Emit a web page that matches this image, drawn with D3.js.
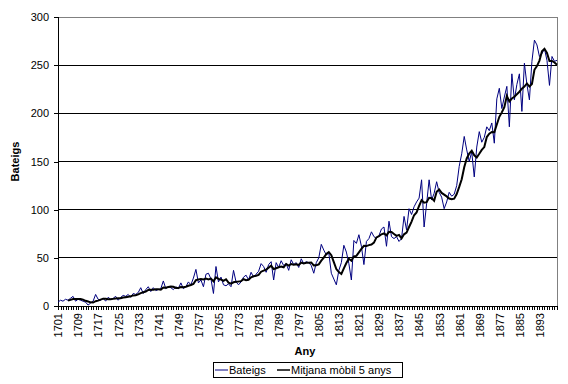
<!DOCTYPE html>
<html>
<head>
<meta charset="utf-8">
<script src="https://cdn.jsdelivr.net/npm/d3@7"></script>
<style>
  body { margin: 0; background: #fff; }
  text { font-family: Arial, "Liberation Sans", sans-serif; }
</style>
</head>
<body>
<div id="vis"></div>
<script>
const firstYear = 1701;
const maFirstYear = 1705;

// baptisms per year, 1701-1900
const bateigs = [
  4, 6, 5, 7, 6, 8, 10, 5, 7, 6,
  5, 4, 1, 3, 5, 12, 7, 6, 8, 5,
  9, 7, 8, 10, 6, 9, 11, 10, 12, 9,
  13, 12, 14, 19, 13, 17, 20, 15, 19, 16,
  17, 18, 26, 18, 20, 19, 17, 20, 18, 24,
  18, 20, 25, 22, 29, 38, 24, 27, 20, 33,
  34, 28, 13, 41, 25, 30, 22, 21, 23, 20,
  37, 25, 22, 25, 30, 32, 27, 35, 30, 33,
  36, 44, 41, 35, 43, 46, 27, 45, 40, 47,
  42, 44, 37, 48, 43, 45, 40, 49, 44, 46,
  45, 42, 34, 45, 50, 64, 58, 53, 55, 34,
  28, 22, 37, 45, 63, 56, 44, 27, 68, 65,
  74, 62, 43, 67, 70, 77, 72, 70, 73, 80,
  82, 62, 88, 72, 70, 72, 67, 70, 93, 79,
  101, 95, 103, 108, 112, 131, 82, 106, 131, 110,
  117, 129, 118, 113, 101, 108, 118, 114, 116, 125,
  145, 158, 176, 162, 150, 160, 134, 165, 181, 170,
  175, 186, 182, 190, 169, 215, 226, 205, 217, 228,
  186, 241, 214, 230, 241, 202, 252, 230, 214, 254,
  276, 271, 259, 262, 267, 255, 229, 259, 254, 255,
];

// 5-year moving average, 1705-1900
const mitjana = [
  5.6, 6.4, 7.2, 7.2, 7.2, 7.2, 6.6, 5.4, 4.6, 3.8,
  3.6, 5, 5.6, 6.6, 7.6, 7.6, 7, 7, 7.4, 7.8,
  8, 8, 8.8, 9.2, 9.6, 10.2, 11, 11.2, 12, 13.4,
  14.2, 15, 16.6, 16.8, 16.8, 17.4, 17.4, 17, 19.2, 19,
  19.8, 20.2, 20, 18.8, 18.8, 19.6, 19.4, 20, 21, 21.8,
  22.8, 26.8, 27.6, 28, 27.6, 28.4, 27.6, 28.4, 25.6, 29.8,
  28.2, 27.4, 26.2, 27.8, 24.2, 23.2, 24.6, 25.2, 25.4, 25.8,
  27.8, 26.8, 27.2, 29.8, 30.8, 31.4, 32.2, 35.6, 36.8, 37.8,
  39.8, 41.8, 38.4, 39.2, 40.2, 41, 40.2, 43.6, 42, 43.6,
  42.8, 43.4, 42.6, 45, 44.2, 44.8, 44.8, 45.2, 42.2, 42.4,
  43.2, 47, 50.2, 54, 56, 52.8, 45.6, 38.4, 35.2, 33.2,
  39, 44.6, 49, 47, 51.6, 52, 55.6, 59.2, 62.4, 62.2,
  63.2, 63.8, 65.8, 71.2, 72.4, 74.4, 75.4, 73.4, 77, 76.8,
  74.8, 72.8, 73.8, 70.2, 74.4, 76.2, 82, 87.6, 94.2, 97.2,
  103.8, 109.8, 107.2, 107.8, 112.4, 112, 109.2, 118.6, 121, 117.4,
  115.6, 113.8, 111.6, 110.8, 111.4, 116.2, 123.6, 131.6, 144, 153.2,
  158.2, 161.2, 156.4, 154.2, 158, 162, 165, 175.4, 178.8, 180.6,
  180.4, 188.4, 196.4, 201, 206.4, 218.2, 212.4, 215.4, 217.2, 219.8,
  222.4, 225.6, 227.8, 231, 227.8, 230.4, 245.2, 249, 254.8, 264.4,
  267, 262.8, 254.4, 254.4, 252.8, 250.4,
];

const yearLabels = [
  "1701", "1709", "1717", "1725", "1733", "1741", "1749", "1757", "1765",
  "1773", "1781", "1789", "1797", "1805", "1813", "1821", "1829", "1837",
  "1845", "1853", "1861", "1869", "1877", "1885", "1893",
];
const yTicks = [0, 50, 100, 150, 200, 250, 300];
const seriesNames = ["Bateigs", "Mitjana mòbil 5 anys"];

const W = 568;
const H = 384;
const margin = { top: 17, right: 11, bottom: 78, left: 58 };
const width = W - margin.left - margin.right;
const height = H - margin.top - margin.bottom;

const svg = d3
  .select("#vis")
  .append("svg")
  .attr("width", W)
  .attr("height", H)
  .append("g")
  .attr("transform", `translate(${margin.left},${margin.top})`);

const lastYear = firstYear + bateigs.length - 1;
const years = bateigs.map((d, i) => firstYear + i);

const xScale = d3.scaleLinear().domain([firstYear, lastYear]).range([0, width]);
const yScale = d3.scaleLinear().domain([0, 300]).range([height, 0]);

// plot frame: gray top/right, black axes drawn later
svg
  .append("rect")
  .attr("x", 0)
  .attr("y", 0)
  .attr("width", width)
  .attr("height", height)
  .attr("fill", "#fff")
  .attr("stroke", "#808080")
  .attr("stroke-width", 1)
  .attr("shape-rendering", "crispEdges");

// gridlines
svg
  .selectAll(".grid")
  .data(yTicks.filter((d) => d > 0 && d < 300))
  .join("line")
  .attr("class", "grid")
  .attr("x1", 0)
  .attr("x2", width)
  .attr("y1", (d) => yScale(d))
  .attr("y2", (d) => yScale(d))
  .attr("stroke", "#000")
  .attr("shape-rendering", "crispEdges");

// y axis
const yAxis = d3.axisLeft(yScale).tickValues(yTicks).tickSize(4).tickPadding(5);
svg
  .append("g")
  .attr("class", "axis")
  .call(yAxis)
  .call((g) => g.selectAll("path, line").attr("stroke", "#000").attr("shape-rendering", "crispEdges"))
  .call((g) => g.selectAll("text").attr("font-size", 11).attr("fill", "#000"));

// x axis: a tick every year, label every 8 years
const xAxis = d3
  .axisBottom(xScale)
  .tickValues(years)
  .tickSize(4)
  .tickSizeOuter(0)
  .tickFormat((d) => (yearLabels.includes(String(d)) ? String(d) : ""));
svg
  .append("g")
  .attr("class", "axis")
  .attr("transform", `translate(0,${height})`)
  .call(xAxis)
  .call((g) => g.selectAll("path, line").attr("stroke", "#000").attr("shape-rendering", "crispEdges"))
  .call((g) =>
    g
      .selectAll("text")
      .attr("font-size", 11)
      .attr("fill", "#000")
      .attr("transform", "rotate(-90)")
      .attr("text-anchor", "end")
      .attr("x", -7)
      .attr("y", 0)
      .attr("dy", "0.35em"),
  );

// lines
const line = (start) =>
  d3
    .line()
    .x((d, i) => xScale(start + i))
    .y((d) => yScale(d));

svg
  .append("path")
  .datum(bateigs)
  .attr("fill", "none")
  .attr("stroke", "#000080")
  .attr("stroke-width", 1)
  .attr("d", line(firstYear));

svg
  .append("path")
  .datum(mitjana)
  .attr("fill", "none")
  .attr("stroke", "#000")
  .attr("stroke-width", 2)
  .attr("d", line(maFirstYear));

// axis titles
svg
  .append("text")
  .attr("x", 247)
  .attr("y", height + 49)
  .attr("text-anchor", "middle")
  .attr("font-size", 11)
  .attr("font-weight", "bold")
  .text("Any");

svg
  .append("text")
  .attr("transform", "rotate(-90)")
  .attr("x", -height / 2)
  .attr("y", -39)
  .attr("text-anchor", "middle")
  .attr("font-size", 11)
  .attr("font-weight", "bold")
  .text("Bateigs");

// legend
const legend = svg.append("g").attr("transform", `translate(${213 - margin.left},${362 - margin.top})`);
legend
  .append("rect")
  .attr("x", 0.5)
  .attr("y", 0.5)
  .attr("width", 189)
  .attr("height", 15)
  .attr("fill", "#fff")
  .attr("stroke", "#000");

const legendItems = [
  { name: seriesNames[0], color: "#000080", x: 2 },
  { name: seriesNames[1], color: "#000", x: 64 },
];
legendItems.forEach((d) => {
  legend
    .append("line")
    .attr("x1", d.x)
    .attr("x2", d.x + 13)
    .attr("y1", 8)
    .attr("y2", 8)
    .attr("stroke", d.color)
    .attr("stroke-width", d.name === seriesNames[1] ? 1.5 : 1);
  legend
    .append("text")
    .attr("x", d.x + 14)
    .attr("y", 12)
    .attr("font-size", 11)
    .text(d.name);
});
</script>
</body>
</html>
